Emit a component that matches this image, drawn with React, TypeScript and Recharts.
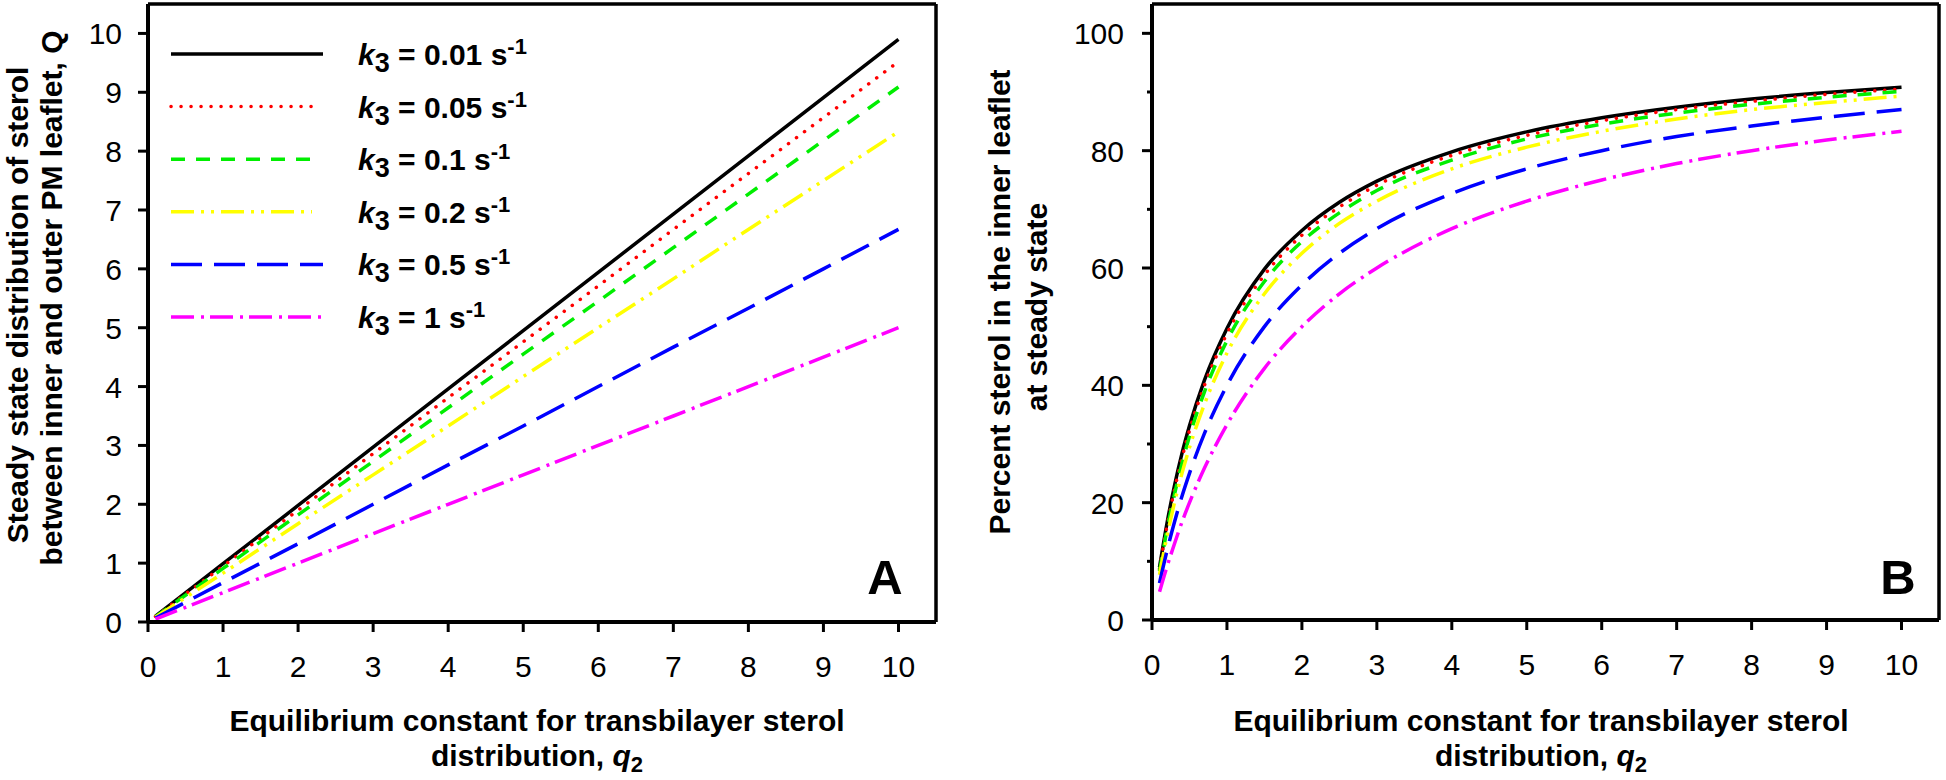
import React from "react";
import { LineChart, Line, XAxis, YAxis, ReferenceLine } from "recharts";

const FONT = "'Liberation Sans', Arial, sans-serif";

// q2 sample points, panel A (straight lines)
const Q2_A = [0.1, 1, 2, 3, 4, 5, 6, 7, 8, 9, 10];
const Q_K001 = [0.1, 0.99, 1.98, 2.97, 3.96, 4.95, 5.94, 6.93, 7.92, 8.91, 9.9];
const Q_K005 = [0.095, 0.95, 1.9, 2.86, 3.81, 4.76, 5.71, 6.67, 7.62, 8.57, 9.52];
const Q_K01 = [0.09, 0.91, 1.82, 2.73, 3.64, 4.55, 5.45, 6.36, 7.27, 8.18, 9.09];
const Q_K02 = [0.083, 0.83, 1.67, 2.5, 3.33, 4.17, 5.0, 5.83, 6.67, 7.5, 8.33];
const Q_K05 = [0.067, 0.67, 1.33, 2.0, 2.67, 3.33, 4.0, 4.67, 5.33, 6.0, 6.67];
const Q_K1 = [0.05, 0.5, 1.0, 1.5, 2.0, 2.5, 3.0, 3.5, 4.0, 4.5, 5.0];

// q2 sample points, panel B (saturating curves)
const Q2_B = [0.1, 0.2, 0.3, 0.4, 0.5, 0.7, 1, 1.5, 2, 2.5, 3, 4, 5, 6, 7, 8, 9, 10];
const P_K001 = [9.0, 16.5, 22.9, 28.4, 33.1, 40.9, 49.7, 59.8, 66.4, 71.2, 74.8, 79.8, 83.2, 85.6, 87.4, 88.8, 89.9, 90.8];
const P_K005 = [8.7, 16.0, 22.2, 27.6, 32.3, 40.0, 48.8, 58.8, 65.6, 70.4, 74.1, 79.2, 82.6, 85.1, 87.0, 88.4, 89.6, 90.5];
const P_K01 = [8.3, 15.4, 21.4, 26.7, 31.3, 38.9, 47.6, 57.7, 64.5, 69.4, 73.2, 78.4, 82.0, 84.5, 86.4, 87.9, 89.1, 90.1];
const P_K02 = [7.7, 14.3, 20.0, 25.0, 29.4, 36.8, 45.5, 55.6, 62.5, 67.6, 71.4, 76.9, 80.6, 83.3, 85.4, 87.0, 88.2, 89.3];
const P_K05 = [6.3, 11.8, 16.7, 21.1, 25.0, 31.8, 40.0, 50.0, 57.1, 62.5, 66.7, 72.7, 76.9, 80.0, 82.4, 84.2, 85.7, 87.0];
const P_K1 = [4.8, 9.1, 13.0, 16.7, 20.0, 25.9, 33.3, 42.9, 50.0, 55.6, 60.0, 66.7, 71.4, 75.0, 77.8, 80.0, 81.8, 83.3];

const X_TICKS = [0, 1, 2, 3, 4, 5, 6, 7, 8, 9, 10];
const Y_TICKS_A = [0, 1, 2, 3, 4, 5, 6, 7, 8, 9, 10];
const Y_TICKS_B = [0, 10, 20, 30, 40, 50, 60, 70, 80, 90, 100];

const SERIES = [
  { key: "k001", k3: "0.01", color: "#000000", dash: undefined, cap: "butt", len: 152 },
  { key: "k005", k3: "0.05", color: "#ff0000", dash: "0.1 9.9", cap: "round", len: 147 },
  { key: "k01", k3: "0.1", color: "#00ee00", dash: "14 11", cap: "butt", len: 150 },
  { key: "k02", k3: "0.2", color: "#ffff00", dash: "23 7 3 7 3 7", cap: "butt", len: 141 },
  { key: "k05", k3: "0.5", color: "#0000ff", dash: "31 12", cap: "butt", len: 152 },
  { key: "k1", k3: "1", color: "#ff00ff", dash: "23 7 3 6", cap: "butt", len: 150 },
];

const dataA = Q2_A.map((q2, i) => ({
  q2, k001: Q_K001[i], k005: Q_K005[i], k01: Q_K01[i], k02: Q_K02[i], k05: Q_K05[i], k1: Q_K1[i],
}));
const dataB = Q2_B.map((q2, i) => ({
  q2, k001: P_K001[i], k005: P_K005[i], k01: P_K01[i], k02: P_K02[i], k05: P_K05[i], k1: P_K1[i],
}));

const XTick = ({ x, y, payload }: any) => (
  <g>
    <line x1={x} x2={x} y1={y} y2={y + 10} stroke="#000" strokeWidth={3} />
    <text x={x} y={y + 55} textAnchor="middle" fontSize={30} fontFamily={FONT} fill="#000">
      {payload.value}
    </text>
  </g>
);

const YTickA = ({ x, y, payload }: any) => (
  <g>
    <line x1={x - 10} x2={x} y1={y} y2={y} stroke="#000" strokeWidth={3} />
    <text x={x - 26} y={y + 11} textAnchor="end" fontSize={30} fontFamily={FONT} fill="#000">
      {payload.value}
    </text>
  </g>
);

const YTickB = ({ x, y, payload }: any) => {
  const major = payload.value % 20 === 0;
  return (
    <g>
      <line x1={x - (major ? 10 : 5)} x2={x} y1={y} y2={y} stroke="#000" strokeWidth={3} />
      {major && (
        <text x={x - 28} y={y + 11} textAnchor="end" fontSize={30} fontFamily={FONT} fill="#000">
          {payload.value}
        </text>
      )}
    </g>
  );
};

function lines(curve: "linear" | "monotone") {
  return SERIES.map((s) => (
    <Line
      key={s.key}
      dataKey={s.key}
      type={curve}
      stroke={s.color}
      strokeWidth={3.5}
      strokeDasharray={s.dash}
      strokeLinecap={s.cap as any}
      dot={false}
      activeDot={false}
      isAnimationActive={false}
    />
  ));
}

const axisLine = { stroke: "#000", strokeWidth: 4 };

function XTitle({ cx }: { cx: number }) {
  return (
    <g fontFamily={FONT} fontWeight="bold" fontSize={30} fill="#000" textAnchor="middle">
      <text x={cx} y={731}>Equilibrium constant for transbilayer sterol</text>
      <text x={cx} y={766}>
        distribution, <tspan fontStyle="italic">q</tspan>
        <tspan fontSize={22} dy={6}>2</tspan>
      </text>
    </g>
  );
}

export default function App() {
  return (
    <div style={{ position: "absolute", left: 0, top: 0, width: 1946, height: 780, background: "#fff" }}>
      <div style={{ position: "absolute", left: 0, top: 0 }}>
        <LineChart width={950} height={780} data={dataA} margin={{ top: 4, right: 14, left: 0, bottom: 0 }}>
          <XAxis
            dataKey="q2"
            type="number"
            domain={[0, 10.5]}
            ticks={X_TICKS}
            allowDataOverflow
            height={158}
            tickSize={0}
            tickMargin={0}
            tickLine={false}
            axisLine={axisLine}
            tick={<XTick />}
          />
          <YAxis
            type="number"
            domain={[0, 10.5]}
            ticks={Y_TICKS_A}
            allowDataOverflow
            width={148}
            tickSize={0}
            tickMargin={0}
            tickLine={false}
            axisLine={axisLine}
            tick={<YTickA />}
          />
          <ReferenceLine y={10.5} stroke="#000" strokeWidth={3.5} />
          <ReferenceLine x={10.5} stroke="#000" strokeWidth={3.5} />
          {lines("linear")}
        </LineChart>
      </div>
      <div style={{ position: "absolute", left: 950, top: 0 }}>
        <LineChart width={996} height={780} data={dataB} margin={{ top: 4, right: 7, left: 0, bottom: 0 }}>
          <XAxis
            dataKey="q2"
            type="number"
            domain={[0, 10.5]}
            ticks={X_TICKS}
            allowDataOverflow
            height={160}
            tickSize={0}
            tickMargin={0}
            tickLine={false}
            axisLine={axisLine}
            tick={<XTick />}
          />
          <YAxis
            type="number"
            domain={[0, 105]}
            ticks={Y_TICKS_B}
            allowDataOverflow
            width={202}
            tickSize={0}
            tickMargin={0}
            tickLine={false}
            axisLine={axisLine}
            tick={<YTickB />}
          />
          <ReferenceLine y={105} stroke="#000" strokeWidth={3.5} />
          <ReferenceLine x={10.5} stroke="#000" strokeWidth={3.5} />
          {lines("monotone")}
        </LineChart>
      </div>
      <svg
        width={1946}
        height={780}
        style={{ position: "absolute", left: 0, top: 0, pointerEvents: "none" }}
      >
        {/* legend, panel A */}
        {SERIES.map((s, i) => {
          const cy = 54 + i * 52.6;
          return (
            <g key={s.key}>
              <line
                x1={171}
                x2={171 + s.len}
                y1={cy}
                y2={cy}
                stroke={s.color}
                strokeWidth={3.5}
                strokeDasharray={s.dash}
                strokeLinecap={s.cap as any}
              />
              <text x={358} y={cy + 11} fontFamily={FONT} fontWeight="bold" fontSize={30} fill="#000">
                <tspan fontStyle="italic">k</tspan>
                <tspan fontSize={27} dy={7}>3</tspan>
                <tspan dy={-7}>{` = ${s.k3} s`}</tspan>
                <tspan fontSize={22} dy={-11}>-1</tspan>
              </text>
            </g>
          );
        })}

        {/* y titles */}
        <g fontFamily={FONT} fontWeight="bold" fontSize={30} fill="#000" textAnchor="middle">
          <text transform="translate(28,305) rotate(-90)">Steady state distribution of sterol</text>
          <text transform="translate(62,298) rotate(-90)">between inner and outer PM leaflet, Q</text>
          <text transform="translate(1010,302) rotate(-90)">Percent sterol in the inner leaflet</text>
          <text transform="translate(1047,307) rotate(-90)">at steady state</text>
        </g>

        <XTitle cx={537} />
        <XTitle cx={1541} />

        {/* panel letters */}
        <g fontFamily={FONT} fontWeight="bold" fontSize={49} fill="#000" textAnchor="middle">
          <text x={885} y={594}>A</text>
          <text x={1898} y={594}>B</text>
        </g>
      </svg>
    </div>
  );
}
